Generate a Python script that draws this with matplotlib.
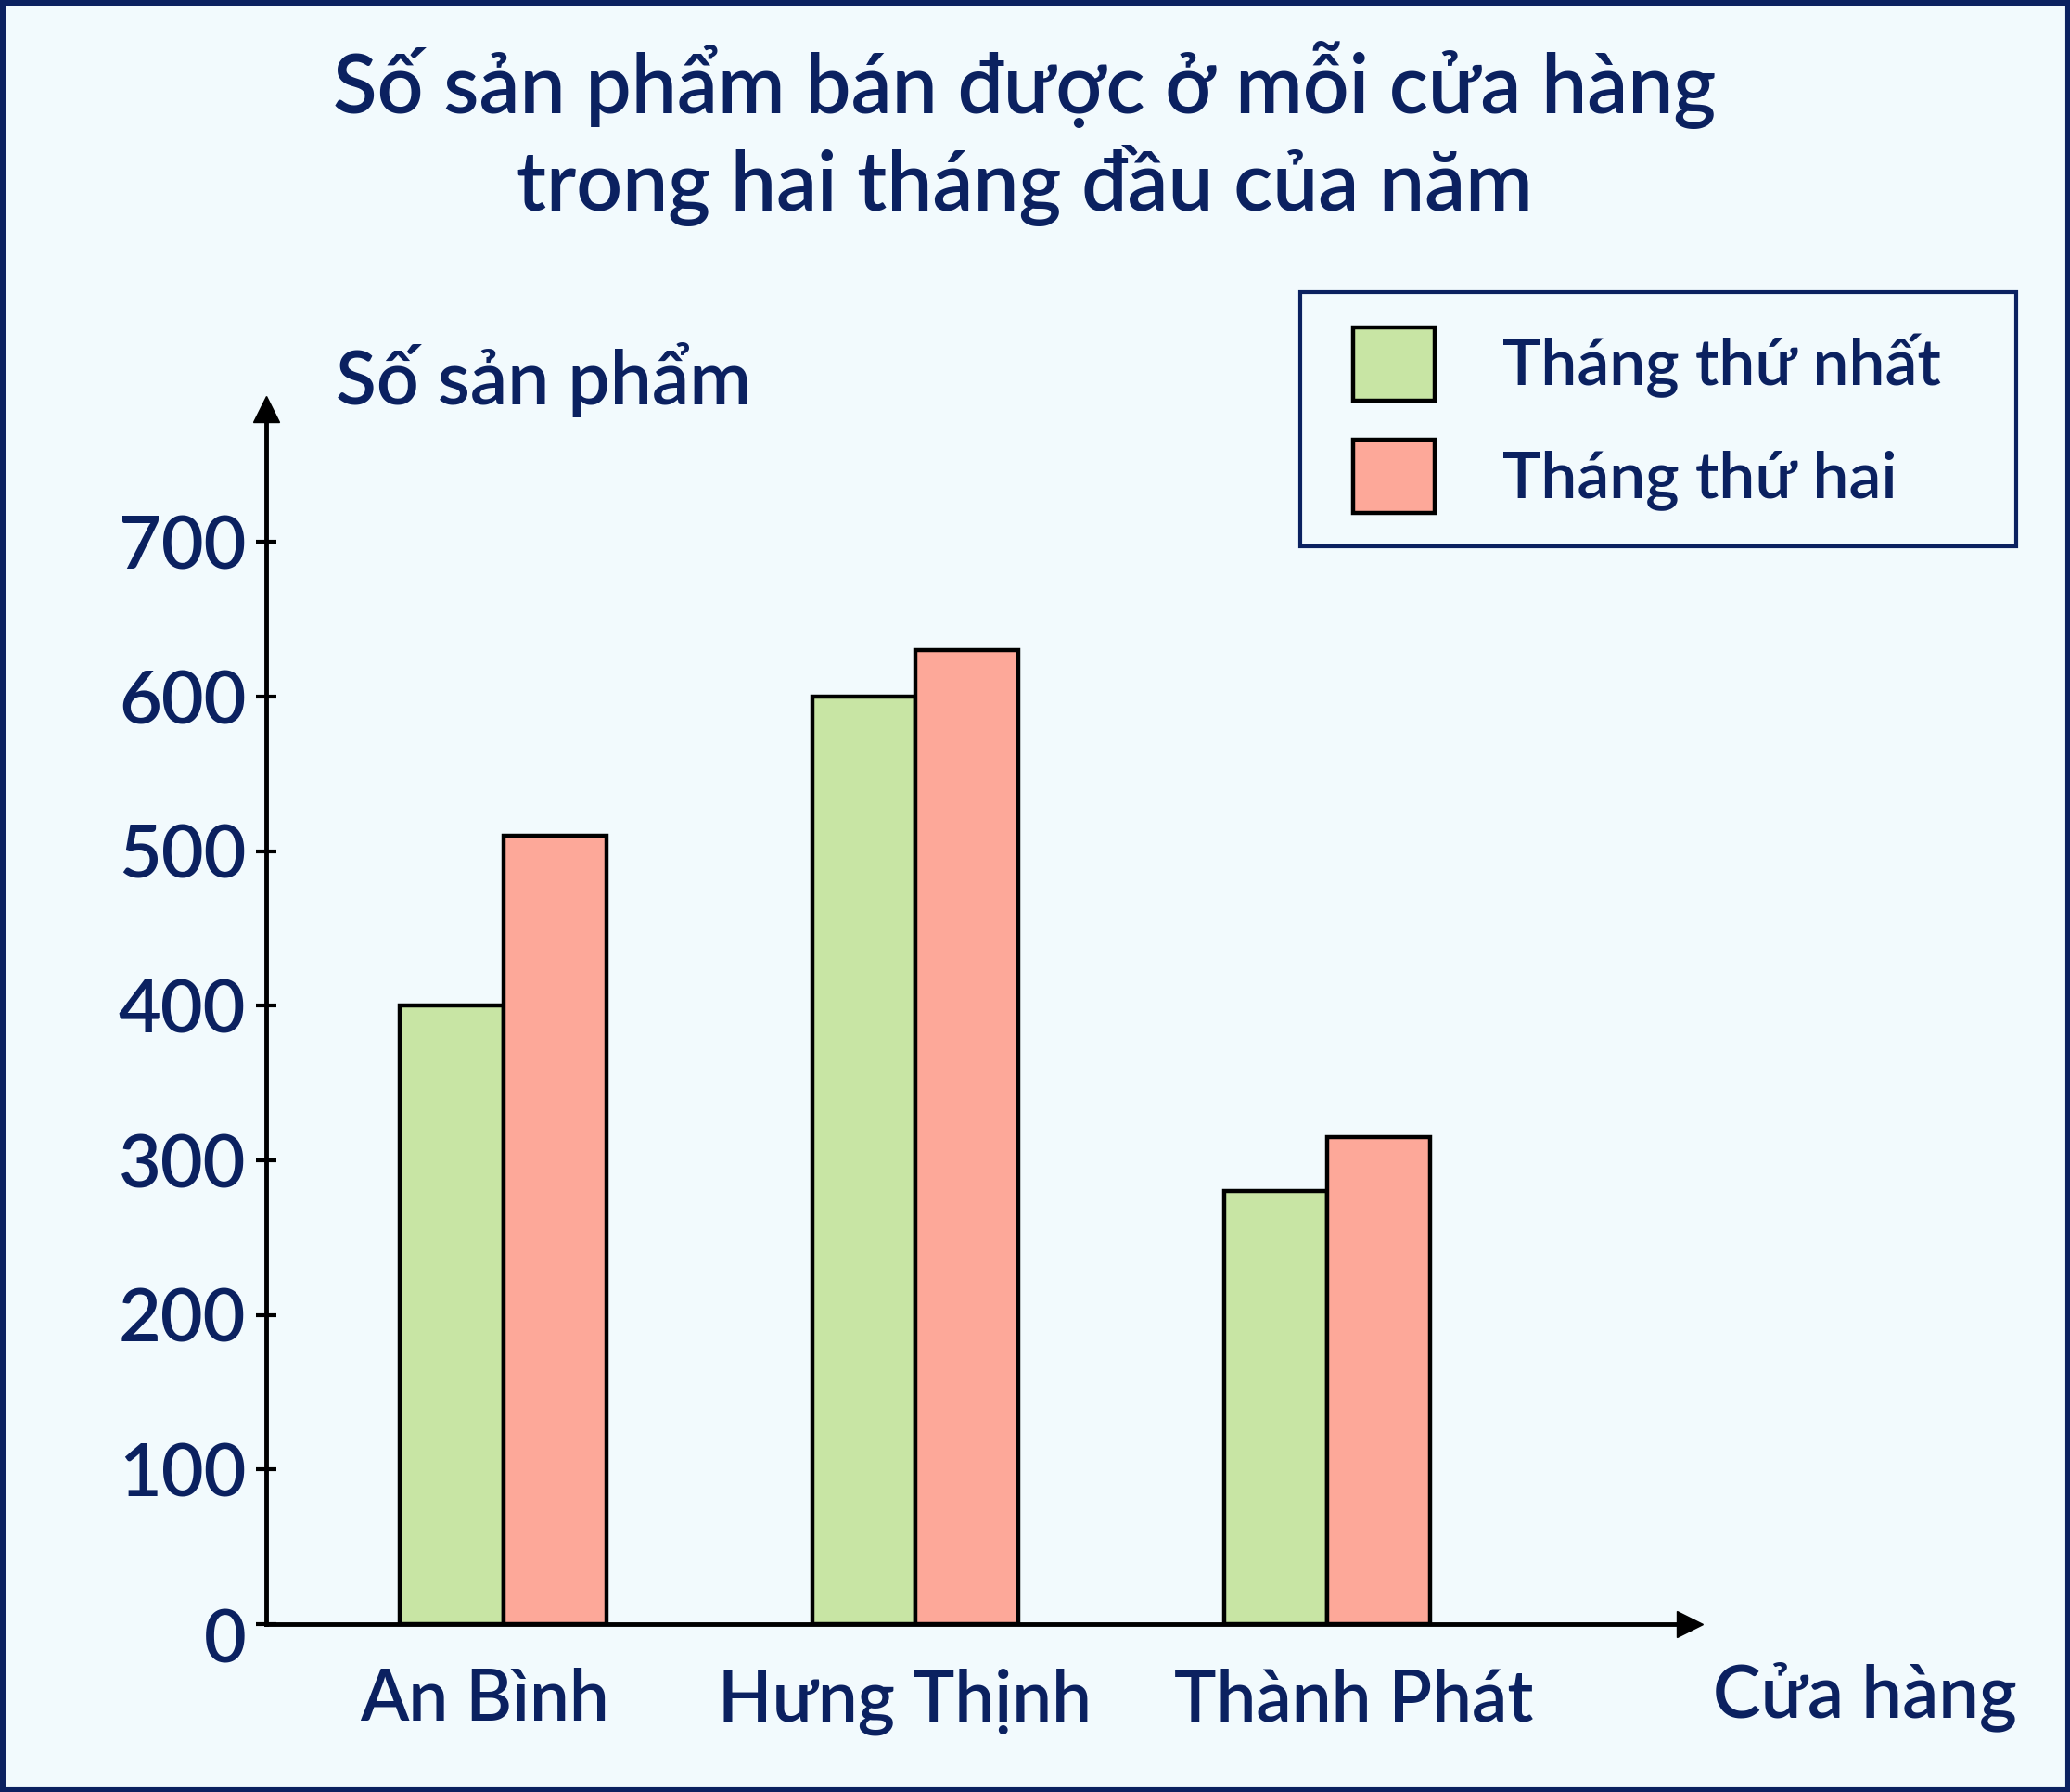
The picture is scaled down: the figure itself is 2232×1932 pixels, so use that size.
import matplotlib
matplotlib.use("Agg")
import matplotlib.pyplot as plt
from matplotlib.patches import Rectangle
from matplotlib.transforms import ScaledTranslation

plt.rcParams['font.family'] = ['Lato', 'DejaVu Sans']
plt.rcParams['font.weight'] = 'semibold'

# data
stores = ["An Bình", "Hưng Thịnh", "Thành Phát"]
month1 = [400, 600, 280]
month2 = [510, 630, 315]
series_names = ["Tháng thứ nhất", "Tháng thứ hai"]
yticks = [0, 100, 200, 300, 400, 500, 600, 700]

navy = "#0b2160"
bg = "#f2fafd"
c1 = "#c8e5a4"
c2 = "#fda899"

fig = plt.figure(figsize=(22.32, 19.32), dpi=100)
fig.patch.set_facecolor(bg)
fig.patches.append(Rectangle((0, 0), 1, 1, transform=fig.transFigure,
                             fill=False, edgecolor=navy, linewidth=8, zorder=10))

ax = fig.add_axes([0.1288, 0.0937, 0.6876, 0.678])
ax.set_facecolor(bg)

w = 0.25
x = list(range(len(stores)))
b1 = ax.bar([i - w / 2 for i in x], month1, w, color=c1, edgecolor="black", linewidth=3.2, zorder=3)
b2 = ax.bar([i + w / 2 for i in x], month2, w, color=c2, edgecolor="black", linewidth=3.2, zorder=3)

ax.set_xlim(-0.574, 2.88)
ax.set_ylim(0, 786)

for s in ["top", "right"]:
    ax.spines[s].set_visible(False)
for s in ["left", "bottom"]:
    ax.spines[s].set_linewidth(3.5)
    ax.spines[s].set_color("black")
    ax.spines[s].set_zorder(4)

# arrow heads
ax.plot(1, 0, ">", color="black", markersize=20, transform=ax.get_yaxis_transform(), clip_on=False, zorder=5)
ax.plot(-0.574, 1, "^", color="black", markersize=20, transform=ax.get_xaxis_transform(), clip_on=False, zorder=5)

ax.set_yticks(yticks)
ax.set_yticklabels([str(v) for v in yticks])
ax.tick_params(axis="y", direction="inout", length=16, width=3, pad=8,
               labelsize=57, labelcolor=navy)
ax.set_xticks(x)
ax.set_xticklabels(stores)
ax.tick_params(axis="x", length=0, pad=34, labelsize=55, labelcolor=navy)

# move the "0" label down a bit
lbl0 = ax.get_yticklabels()[0]
lbl0.set_transform(lbl0.get_transform() + ScaledTranslation(0, -0.13, fig.dpi_scale_trans))

# store labels are not exactly centred under their groups
for lbl, dx in zip(ax.get_xticklabels(), [-0.20, -0.11, 0.28]):
    lbl.set_transform(lbl.get_transform() + ScaledTranslation(dx, 0, fig.dpi_scale_trans))

ax.text(0.0487, 1.024, "Số sản phẩm", transform=ax.transAxes, ha="left", va="center",
        fontsize=58, color=navy)
ax.text(1.016, -0.06, "Cửa hàng", transform=ax.transAxes, ha="left", va="center",
        fontsize=56, color=navy)

fig.text(0.495, 0.9255, "Số sản phẩm bán được ở mỗi cửa hàng\ntrong hai tháng đầu của năm",
         ha="center", va="center", fontsize=63, color=navy, linespacing=1.25)

# legend frame drawn separately, legend entries placed inside
fig.patches.append(Rectangle((0.6282, 0.6949), 0.3457, 0.1422, transform=fig.transFigure,
                             facecolor=bg, edgecolor=navy, linewidth=3, zorder=1))
leg = fig.legend([b1, b2], series_names, loc="center left", bbox_to_anchor=(0.6536, 0.7655),
                 fontsize=50, frameon=False, borderaxespad=0, borderpad=0,
                 handlelength=1.27, handleheight=1.38,
                 handletextpad=1.05, labelspacing=0.6, labelcolor=navy)

fig.savefig("out.png", dpi=100, facecolor=bg)
